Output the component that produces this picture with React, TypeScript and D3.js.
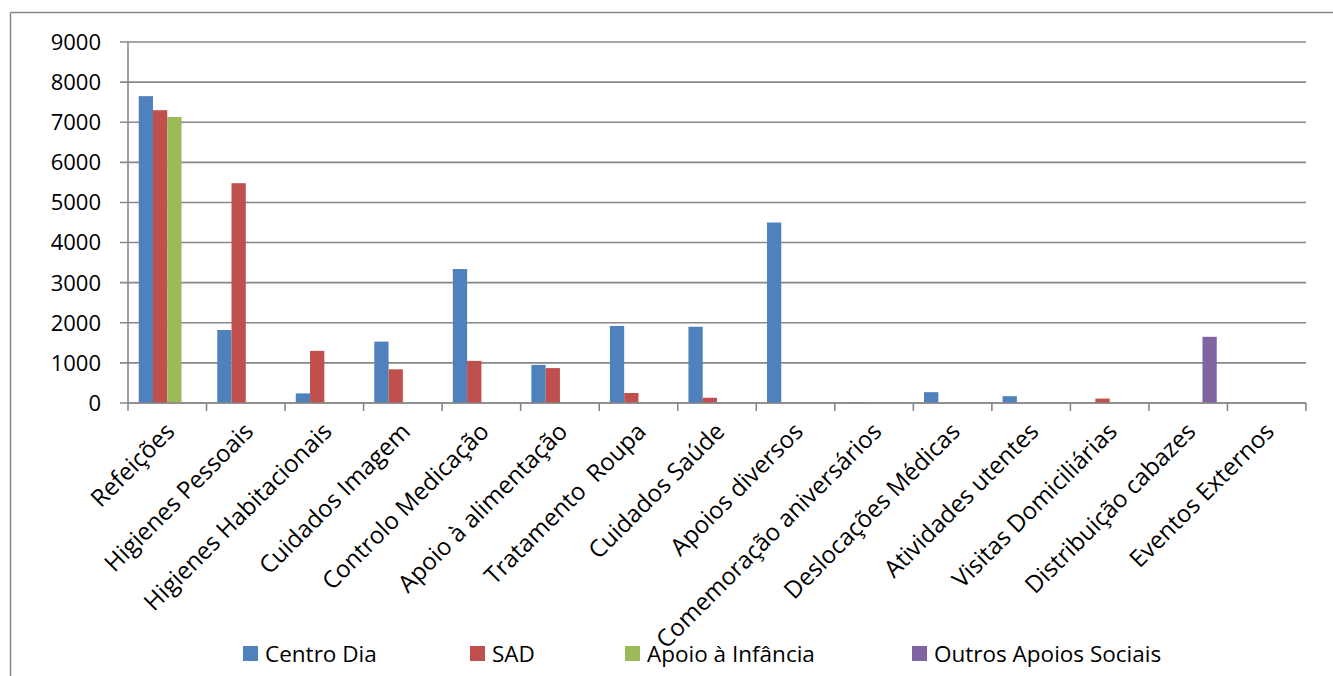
import React from "react";
import * as d3 from "d3";

const categories = [
  "Refeições",
  "Higienes Pessoais",
  "Higienes Habitacionais",
  "Cuidados Imagem",
  "Controlo Medicação",
  "Apoio à alimentação",
  "Tratamento  Roupa",
  "Cuidados Saúde",
  "Apoios diversos",
  "Comemoração aniversários",
  "Deslocações Médicas",
  "Atividades utentes",
  "Visitas Domiciliárias",
  "Distribuição cabazes",
  "Eventos Externos",
];

const seriesNames = ["Centro Dia", "SAD", "Apoio à Infância", "Outros Apoios Sociais"];
const seriesColors = ["#4F81BD", "#C0504D", "#9BBB59", "#8064A2"];

const centroDia = [7650, 1820, 240, 1530, 3340, 950, 1920, 1900, 4500, 12, 270, 170, 0, 0, 0];
const sad = [7300, 5480, 1300, 840, 1050, 870, 250, 130, 0, 8, 0, 0, 110, 0, 0];
const apoioInfancia = [7130, 0, 0, 0, 0, 0, 0, 0, 0, 0, 0, 0, 0, 0, 0];
const outrosApoios = [0, 0, 0, 0, 0, 0, 0, 0, 0, 0, 0, 0, 0, 1650, 0];

const yTicks = [0, 1000, 2000, 3000, 4000, 5000, 6000, 7000, 8000, 9000];

const W = 1333;
const H = 676;
const left = 128;
const right = 1306;
const top = 42;
const bottom = 403;
const FONT = "'Open Sans', 'Noto Sans', sans-serif";
const GRID = "#888888";

export default function App() {
  const series = [centroDia, sad, apoioInfancia, outrosApoios];
  const x = d3.scaleBand<string>().domain(categories).range([left, right]).padding(0);
  const y = d3.scaleLinear().domain([0, 9000]).range([bottom, top]);
  const bw = x.bandwidth();
  const barW = bw / (series.length + 1.5);
  const inner = d3
    .scaleBand<number>()
    .domain(d3.range(series.length))
    .range([0.75 * barW, 0.75 * barW + series.length * barW])
    .padding(0);

  const legendX = [243, 470, 625, 912];

  return (
    <svg
      width={W}
      height={H}
      style={{ position: "absolute", left: 0, top: 0, background: "#fff" }}
      fontFamily={FONT}
    >
      <rect x={0} y={0} width={W} height={H} fill="#fff" />
      {/* outer frame */}
      <line x1={10.5} y1={12.5} x2={W} y2={12.5} stroke={GRID} strokeWidth={1.5} />
      <line x1={10.5} y1={12.5} x2={10.5} y2={H} stroke={GRID} strokeWidth={1.5} />

      {/* gridlines */}
      {yTicks.map((t) => (
        <g key={t}>
          <line
            x1={left - 8}
            x2={right}
            y1={y(t)}
            y2={y(t)}
            stroke={GRID}
            strokeWidth={1.6}
          />
          <text
            x={101}
            y={y(t)}
            dy="0.36em"
            textAnchor="end"
            fontSize={22}
            fill="#000"
          >
            {t}
          </text>
        </g>
      ))}

      {/* y axis */}
      <line x1={left} x2={left} y1={top} y2={bottom} stroke={GRID} strokeWidth={1.6} />

      {/* bars */}
      {series.map((vals, si) =>
        vals.map((v, ci) =>
          v > 0 ? (
            <rect
              key={`${si}-${ci}`}
              x={(x(categories[ci]) as number) + (inner(si) as number)}
              y={y(v)}
              width={inner.bandwidth()}
              height={bottom - y(v)}
              fill={seriesColors[si]}
            />
          ) : null
        )
      )}

      {/* x axis */}
      <line x1={left} x2={right} y1={bottom} y2={bottom} stroke={GRID} strokeWidth={1.6} />
      {categories.map((c) => (
        <line
          key={"t" + c}
          x1={x(c) as number}
          x2={x(c) as number}
          y1={bottom}
          y2={bottom + 8}
          stroke={GRID}
          strokeWidth={1.6}
        />
      ))}
      <line x1={right} x2={right} y1={bottom} y2={bottom + 8} stroke={GRID} strokeWidth={1.6} />

      {/* x labels */}
      {categories.map((c) => {
        const cx = (x(c) as number) + bw / 2 + 3;
        const cy = bottom + 24;
        return (
          <text
            key={"l" + c}
            transform={`translate(${cx},${cy}) rotate(-45)`}
            textAnchor="end"
            fontSize={24}
            dy="0.35em"
            fill="#000"
            style={{ whiteSpace: "pre" }}
          >
            {c}
          </text>
        );
      })}

      {/* legend */}
      {seriesNames.map((n, i) => (
        <g key={n}>
          <rect x={legendX[i]} y={646} width={15} height={15} fill={seriesColors[i]} />
          <text x={legendX[i] + 22} y={653.5} dy="0.36em" fontSize={22.5} fill="#000">
            {n}
          </text>
        </g>
      ))}
    </svg>
  );
}
